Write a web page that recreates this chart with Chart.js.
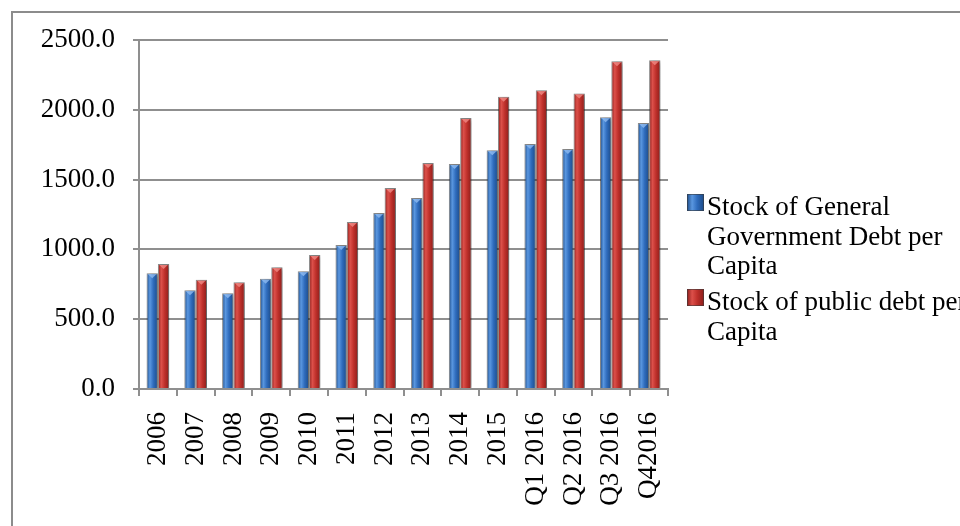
<!DOCTYPE html>
<html>
<head>
<meta charset="utf-8">
<script src="https://cdn.jsdelivr.net/npm/chart.js@4.4.1/dist/chart.umd.min.js"></script>
<style>
  html, body { margin: 0; padding: 0; background: #fff; overflow: hidden; }
  #wrap { position: relative; width: 960px; height: 526px; }
  #frame { position: absolute; left: 11px; top: 11px; width: 1000px; height: 600px;
           border-left: 2px solid #8c8c8c; border-top: 2px solid #8c8c8c; }
  #debtChart { position: absolute; left: 0; top: 0; }
</style>
</head>
<body>
<div id="wrap">
  <div id="frame"></div>
  <canvas id="debtChart" width="960" height="526"></canvas>
</div>
<script>
// categories and series
const periods = ['2006', '2007', '2008', '2009', '2010', '2011', '2012', '2013', '2014', '2015',
                 'Q1 2016', 'Q2 2016', 'Q3 2016', 'Q42016'];
const generalGovDebt = [830, 708, 686, 789, 844, 1031, 1260, 1368, 1612, 1710, 1755, 1720, 1946, 1906];
const publicDebt = [895, 782, 765, 873, 959, 1196, 1440, 1619, 1942, 2093, 2140, 2116, 2348, 2355];
const seriesNames = [
  ['Stock of General', 'Government Debt per', 'Capita'],
  ['Stock of public debt per', 'Capita']
];
const yTicks = [0, 500, 1000, 1500, 2000, 2500];

const FONT = 'Liberation Serif';
const FONT_SIZE = 27;
const CAT_PCT = 0.6;
const GRID = '#8f8f8f';

// colours: dark edge, light highlight, mid body
const palettes = [
  { dark: '#1c4a86', light: '#5a97e0', mid: '#2f6cbd', cap: '#8fbaf0' },
  { dark: '#8a1d1a', light: '#dc504a', mid: '#bf302b', cap: '#f08a84' }
];

function cylinder(ctx2d, x0, x1, p) {
  const g = ctx2d.createLinearGradient(x0, 0, x1, 0);
  g.addColorStop(0, p.dark);
  g.addColorStop(0.3, p.light);
  g.addColorStop(0.6, p.mid);
  g.addColorStop(1, p.dark);
  return g;
}

function barFill(context) {
  const p = palettes[context.datasetIndex];
  const xs = context.chart.scales.x;
  if (context.type !== 'data' || !xs) return p.mid;
  const w = (xs.right - xs.left) / periods.length;
  const slot = w * CAT_PCT / 2;
  const c = xs.getPixelForValue(context.dataIndex);
  const x0 = c + (context.datasetIndex - 1) * slot;
  if (!isFinite(x0) || !isFinite(slot)) return p.mid;
  return cylinder(context.chart.ctx, x0, x0 + slot, p);
}

// soft shadow behind the bars
const barShadow = {
  id: 'barShadow',
  beforeDatasetDraw(chart) {
    const c = chart.ctx;
    c.save();
    c.shadowColor = 'rgba(0,0,0,0.35)';
    c.shadowBlur = 4;
    c.shadowOffsetX = 2;
    c.shadowOffsetY = 1;
  },
  afterDatasetDraw(chart) { chart.ctx.restore(); }
};

// light bevel at the top of each bar
const barCaps = {
  id: 'barCaps',
  afterDatasetsDraw(chart) {
    const c = chart.ctx;
    chart.data.datasets.forEach((ds, di) => {
      const p = palettes[di];
      chart.getDatasetMeta(di).data.forEach(bar => {
        const x0 = bar.x - bar.width / 2 + 1.5;
        const x1 = bar.x + bar.width / 2 - 1.5;
        c.save();
        c.fillStyle = p.cap;
        c.globalAlpha = 0.8;
        c.beginPath();
        c.moveTo(x0, bar.y + 1);
        c.lineTo(x1, bar.y + 1);
        c.lineTo((x0 + x1) / 2, bar.y + 5);
        c.closePath();
        c.fill();
        c.restore();
      });
    });
  }
};

// legend to the right of the plot, with wrapped labels
const sideLegend = {
  id: 'sideLegend',
  afterDraw(chart) {
    const c = chart.ctx;
    const boxX = 687, box = 17, textX = 707;
    const firstBaseline = [215, 310];
    c.save();
    c.font = FONT_SIZE + 'px "' + FONT + '"';
    c.textBaseline = 'alphabetic';
    seriesNames.forEach((lines, i) => {
      const base = firstBaseline[i];
      const top = base - 21;
      c.fillStyle = cylinder(c, boxX, boxX + box, palettes[i]);
      c.fillRect(boxX, top, box, box);
      c.strokeStyle = 'rgba(60,60,60,0.6)';
      c.lineWidth = 1;
      c.strokeRect(boxX + 0.5, top + 0.5, box - 1, box - 1);
      c.fillStyle = '#000';
      lines.forEach((t, k) => c.fillText(t, textX, base + k * 29.5));
    });
    c.restore();
  }
};

const barStyle = {
  backgroundColor: barFill,
  borderColor: 'rgba(50,50,50,0.55)',
  borderWidth: 1,
  categoryPercentage: CAT_PCT,
  barPercentage: 1
};

new Chart(document.getElementById('debtChart'), {
  type: 'bar',
  data: {
    labels: periods,
    datasets: [
      Object.assign({ label: seriesNames[0].join(' '), data: generalGovDebt }, barStyle),
      Object.assign({ label: seriesNames[1].join(' '), data: publicDebt }, barStyle)
    ]
  },
  options: {
    responsive: false,
    animation: false,
    layout: { padding: { left: 0, top: 40, right: 292, bottom: 0 } },
    plugins: {
      legend: { display: false },
      tooltip: { enabled: false }
    },
    scales: {
      x: {
        afterFit(s) { s.height = 137; },
        border: { color: GRID, width: 2 },
        grid: { drawOnChartArea: false, color: GRID, lineWidth: 2, tickLength: 7 },
        ticks: {
          color: '#000',
          font: { family: FONT, size: FONT_SIZE },
          minRotation: 90,
          maxRotation: 90,
          autoSkip: false,
          padding: 16
        }
      },
      y: {
        min: 0,
        max: 2500,
        afterFit(s) { s.width = 139; },
        afterBuildTicks(s) { s.ticks = yTicks.map(v => ({ value: v })); },
        border: { color: GRID, width: 2 },
        grid: { color: GRID, lineWidth: 2, tickLength: 6 },
        ticks: {
          color: '#000',
          font: { family: FONT, size: FONT_SIZE },
          padding: 18,
          callback: v => v.toFixed(1)
        }
      }
    }
  },
  plugins: [barShadow, barCaps, sideLegend]
});
</script>
</body>
</html>
